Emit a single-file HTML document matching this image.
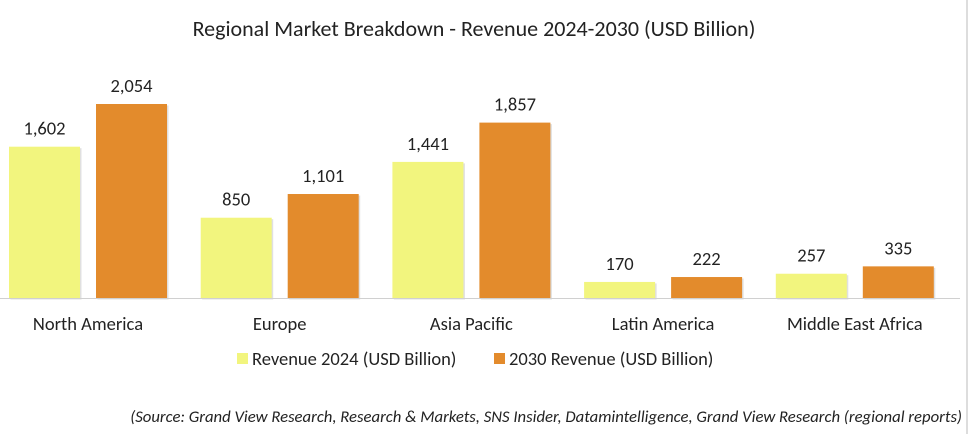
<!DOCTYPE html>
<html><head><meta charset="utf-8"><style>
body{margin:0;background:#fff;font-family:"Liberation Sans",sans-serif;}
svg text{font-family:"Carlito","Liberation Sans",sans-serif;fill:#222;}
</style></head><body>
<svg id="chart" width="975" height="434" xmlns="http://www.w3.org/2000/svg">
<line x1="967" y1="0" x2="967" y2="434" stroke="#bbb" stroke-width="1"/>
<text x="474" y="36" text-anchor="middle" font-size="22">Regional Market Breakdown - Revenue 2024-2030 (USD Billion)</text>
<g id="bars"></g>
<line x1="0" y1="298.5" x2="960" y2="298.5" stroke="#d0d0d0" stroke-width="1"/>
<g>
<rect x="237" y="353" width="11" height="11" fill="#f2f57e"/>
<text x="252" y="365" font-size="18.5">Revenue 2024 (USD Billion)</text>
<rect x="494" y="353" width="11" height="11" fill="#e38b2c"/>
<text x="509" y="365" font-size="18.5">2030 Revenue (USD Billion)</text>
</g>
<text x="962" y="422" text-anchor="end" font-size="16.7" font-style="italic">(Source: Grand View Research, Research &amp; Markets, SNS Insider, Datamintelligence, Grand View Research (regional reports)</text>
</svg>
<script>
const categories=["North America","Europe","Asia Pacific","Latin America","Middle East Africa"];
const rev2024=[1602,850,1441,170,257];
const rev2030=[2054,1101,1857,222,335];
const baseY=298, scale=194/2054;
const y=v=>baseY-v*scale;
const x0=i=>9+i*191.7;
const bw=71;
const ns="http://www.w3.org/2000/svg";
const g=document.getElementById('bars');
function mk(t,a){const e=document.createElementNS(ns,t);for(const k in a)e.setAttribute(k,a[k]);g.appendChild(e);return e;}
const fmt=v=>v.toLocaleString('en-US');
categories.forEach((c,i)=>{
  [[rev2024,'#f2f57e',0,'2024'],[rev2030,'#e38b2c',87,'2030']].forEach(([arr,col,off,s])=>{
    const v=arr[i],bx=x0(i)+off;
    const sh=mk('rect',{x:bx+1.5,y:y(v)+1.5,width:bw,height:baseY-y(v),fill:'#ccc',opacity:0.6});
    
    
    const r=mk('rect',{x:bx,y:y(v),width:bw,height:baseY-y(v),fill:col});
    
    
    const t=mk('text',{x:bx+bw/2,y:y(v)-12,'text-anchor':'middle','font-size':18.5});
    t.textContent=fmt(v);
    
    
  });
  const l=mk('text',{x:x0(i)+79,y:330,'text-anchor':'middle','font-size':18.5});
  l.textContent=c;
  
  
});
</script>
</body></html>
